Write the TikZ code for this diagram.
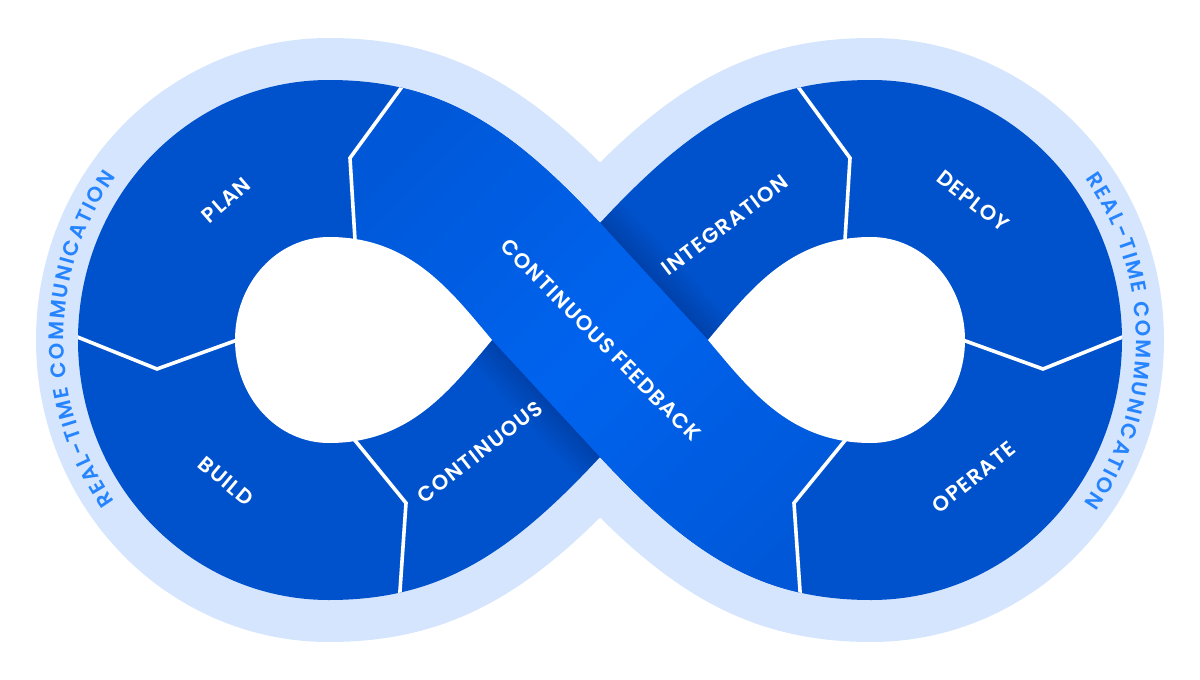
\documentclass[tikz,border=0pt]{standalone}
\usepackage{fontspec}
\usetikzlibrary{decorations.text}
\newfontfamily\lblfont{Poppins SemiBold}[LetterSpace=6]
\newfontfamily\rtfont{Poppins SemiBold}
\definecolor{baseblue}{HTML}{0052CC}
\definecolor{brightblue}{HTML}{0063EE}
\definecolor{endblue}{HTML}{0058D8}
\definecolor{lightband}{HTML}{D4E5FD}
\definecolor{rtblue}{HTML}{2684FF}
\def\OuterShape{(600,223) .. controls (510,126) and (440,80) .. (329,80)
 .. controls (190,80) and (78,196) .. (78,340)
 .. controls (78,484) and (190,600) .. (329,600)
 .. controls (440,600) and (510,554) .. (600,457)
 .. controls (690,554) and (760,600) .. (871,600)
 .. controls (1010,600) and (1122,484) .. (1122,340)
 .. controls (1122,196) and (1010,80) .. (871,80)
 .. controls (760,80) and (690,126) .. (600,223) -- cycle}
\def\LeftHole{(492,340) .. controls (450,290) and (410,237) .. (329,237)
 .. controls (277,237) and (235,283) .. (235,340)
 .. controls (235,397) and (277,443) .. (329,443)
 .. controls (410,443) and (450,390) .. (492,340) -- cycle}
\def\RightHole{(708,340) .. controls (750,290) and (790,237) .. (871,237)
 .. controls (923,237) and (965,283) .. (965,340)
 .. controls (965,397) and (923,443) .. (871,443)
 .. controls (790,443) and (750,390) .. (708,340) -- cycle}
\tikzset{
  divider/.style={white, line width=3.6pt, line join=miter},
  stage/.style={text=white, font=\lblfont\fontsize{21}{21}\selectfont, inner sep=0pt},
  rtpath/.style={decorate, decoration={text along path, text align=center,
    text={|\rtfont\fontsize{21}{21}\selectfont\color{rtblue}\kern2pt|REAL-TIME COMMUNICATION}}}
}
\begin{document}
\begin{tikzpicture}[x=1pt,y=-1pt]
\useasboundingbox (0,0) rectangle (1200,680);
% light outer band
\fill[lightband] \OuterShape;
\draw[lightband, line width=84pt] \OuterShape;
% blue body
\fill[baseblue] \OuterShape;
\begin{scope}
  \clip \OuterShape;
  % shadows on the under-passing bands
  \begin{scope}
    \clip (480,93) -- (740,375) -- (1000,250) -- (700,-50) -- cycle;
    \foreach \w in {4,8,...,64} \draw[black, opacity=0.006, line width=\w pt] (480,93) -- (740,375);
  \end{scope}
  \begin{scope}
    \clip (470,316) -- (720,587) -- (500,700) -- (250,420) -- cycle;
    \foreach \w in {4,8,...,64} \draw[black, opacity=0.006, line width=\w pt] (470,316) -- (720,587);
  \end{scope}
  % continuous feedback band (on top)
  \shade[top color=endblue, bottom color=endblue, middle color=brightblue, shading angle=45]
    (355,240) -- (350,158) -- (400,90) -- (425,30) -- (520,136) -- (708,340)
    -- (845,440) -- (795,503) -- (799,590) -- (805,660) -- (660,522) -- (600,457)
    -- (492,340) -- cycle;
  % holes
  \fill[white] \LeftHole;
  \fill[white] \RightHole;
  % dividers
  \draw[divider] (404,84) -- (350,158) -- (355.5,248);
  \draw[divider] (70,334) -- (157,369) -- (240,339);
  \draw[divider] (353,438) -- (406,503) -- (399.5,598);
  \draw[divider] (796,84) -- (850,158) -- (844.5,248);
  \draw[divider] (1130,334) -- (1043,369) -- (960,339);
  \draw[divider] (847,438) -- (794,503) -- (800.5,598);
\end{scope}
% stage labels
\node[stage, rotate=41] (plan) at (226,200) {PLAN};
\node[stage, rotate=-40] (build) at (226,481) {BUILD};
\node[stage, rotate=38] (cont) at (480,452) {CONTINUOUS};
\node[stage, rotate=37] (integ) at (725,225) {INTEGRATION};
\node[stage, rotate=-38] (deploy) at (973,201) {DEPLOY};
\node[stage, rotate=39] (operate) at (974,477) {OPERATE};
\node[stage, rotate=-45.4] (feedback) at (601,340) {CONTINUOUS FEEDBACK};
% real-time communication
\path[rtpath] (196.5,577.3) arc[start angle=120, end angle=240, x radius=265, y radius=274];
\path[rtpath] (1003.5,102.7) arc[start angle=-60, end angle=60, x radius=265, y radius=274];
\end{tikzpicture}
\end{document}
